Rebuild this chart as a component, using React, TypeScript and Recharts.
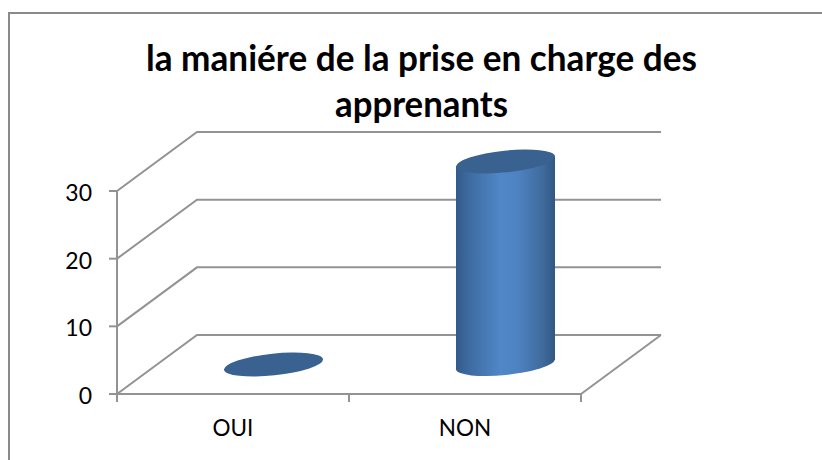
import { BarChart, Bar, XAxis, YAxis, CartesianGrid } from "recharts";

const categories = ["OUI", "NON"];
const values = [0, 30];
const yTicks = [0, 10, 20, 30];
const titleLines = ["la maniére de la prise en charge des", "apprenants"];

const chartData = categories.map((name, i) => ({ name, value: values[i] }));

const AXIS = "#939393";
const FONT = "Lato, Carlito, sans-serif";
const DEPTH_X = 80;
const DEPTH_Y = 59;

// one grid line becomes side wall + back wall, the floor also gets its right edge
function WallLine(props: any) {
  const { x1, x2, y1, index } = props;
  const backY = y1 - DEPTH_Y;
  const isFloor = y1 > 390;
  return (
    <g key={index} fill="none" stroke={AXIS} strokeWidth={2}>
      <polyline points={`${x1},${y1} ${x1 + DEPTH_X},${backY} ${x2 + DEPTH_X},${backY}`} />
      {isFloor && <line x1={x2} y1={y1} x2={x2 + DEPTH_X} y2={backY} />}
    </g>
  );
}

// ticks sit on the band edges, the label stays in the middle of the band
function CategoryTick(props: any) {
  const { x, y, width, visibleTicksCount, index, payload } = props;
  const band = width / visibleTicksCount;
  const edges = [x - band / 2];
  if (index === visibleTicksCount - 1) edges.push(x + band / 2);
  return (
    <g>
      {edges.map((ex) => (
        <line key={ex} x1={ex} y1={y} x2={ex} y2={y + 8} stroke={AXIS} strokeWidth={2} />
      ))}
      <text x={x} y={y + 42} textAnchor="middle" fontFamily={FONT} fontSize={22.5} fill="#000">
        {payload.value}
      </text>
    </g>
  );
}

function Cylinder(props: any) {
  const { x, y, width, height } = props;
  const cx = x + width / 2 + DEPTH_X / 2;
  const topY = y - DEPTH_Y / 2;
  const baseY = y + height - DEPTH_Y / 2;
  const hw = width / 2;
  const rx = hw + 0.3;
  const ry = 10.9;
  const tilt = 5;
  return (
    <g>
      {height > 0 && (
        <path
          d={`M${cx - hw},${topY + tilt} L${cx - hw},${baseY + tilt} A${rx},${ry} -6 0 0 ${cx + hw},${baseY - tilt} L${cx + hw},${topY - tilt} Z`}
          fill="url(#cylBody)"
        />
      )}
      <ellipse
        cx={cx}
        cy={topY}
        rx={rx}
        ry={ry}
        fill="#3a6291"
        transform={`rotate(-6 ${cx} ${topY})`}
      />
    </g>
  );
}

export default function App() {
  return (
    <div
      style={{
        position: "absolute",
        left: 0,
        top: 0,
        width: 822,
        height: 460,
        overflow: "hidden",
        background: "#fff",
      }}
    >
      <div
        style={{
          position: "absolute",
          left: 8,
          top: 12,
          width: 830,
          height: 470,
          borderLeft: "2px solid #8a8a8a",
          borderTop: "2px solid #8a8a8a",
        }}
      />
      <div style={{ position: "absolute", left: 0, top: 0 }}>
        <BarChart
          width={822}
          height={460}
          data={chartData}
          margin={{ top: 191, right: 241, bottom: 0, left: 0 }}
        >
          <defs>
            <linearGradient id="cylBody" x1="0" y1="0" x2="1" y2="0">
              <stop offset="0%" stopColor="#335a8b" />
              <stop offset="12%" stopColor="#3d6a9e" />
              <stop offset="45%" stopColor="#5087c8" />
              <stop offset="62%" stopColor="#4e83c2" />
              <stop offset="88%" stopColor="#3f6a9c" />
              <stop offset="100%" stopColor="#325680" />
            </linearGradient>
          </defs>
          <text textAnchor="middle" fontFamily={FONT} fontWeight={700} fontSize={37} fill="#000">
            <tspan x={421.5} y={71} textLength={551} lengthAdjust="spacingAndGlyphs">{titleLines[0]}</tspan>
            <tspan x={421.5} y={117} textLength={173} lengthAdjust="spacingAndGlyphs">{titleLines[1]}</tspan>
          </text>
          <CartesianGrid vertical={false} horizontal={(p: any) => <WallLine {...p} />} />
          <XAxis
            dataKey="name"
            height={66}
            axisLine={{ stroke: AXIS, strokeWidth: 2 }}
            tickLine={false}
            tick={<CategoryTick />}
            tickSize={0}
            tickMargin={0}
          />
          <YAxis
            domain={[0, 30]}
            ticks={yTicks}
            width={117}
            axisLine={{ stroke: AXIS, strokeWidth: 2 }}
            tickLine={{ stroke: AXIS, strokeWidth: 2 }}
            tick={{ fill: "#000", fontFamily: FONT, fontSize: 23, dy: 2 }}
            tickSize={8}
            tickMargin={17}
          />
          <Bar dataKey="value" barSize={99} isAnimationActive={false} shape={<Cylinder />} />
        </BarChart>
      </div>
    </div>
  );
}
